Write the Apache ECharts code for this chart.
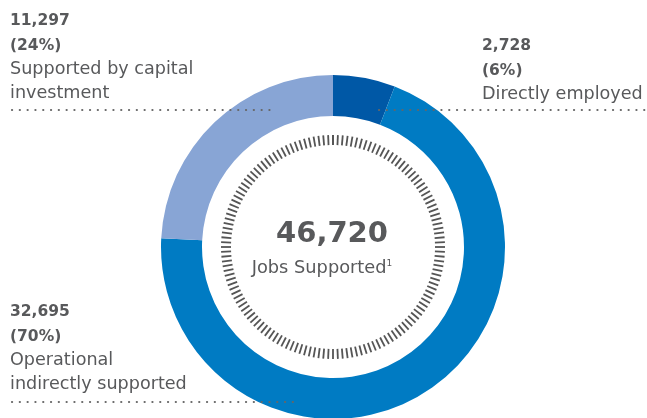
<!DOCTYPE html>
<html>
<head>
<meta charset="utf-8">
<script src="https://cdn.jsdelivr.net/npm/echarts@6/dist/echarts.min.js"></script>
<style>
  html, body { margin: 0; padding: 0; background: #ffffff; }
  #chart { width: 647px; height: 418px; }
</style>
</head>
<body>
<div id="chart"></div>
<script>
// Jobs supported, by category
const categories = ['Directly employed', 'Operational indirectly supported', 'Supported by capital investment'];
const labelLines = [['Directly employed'], ['Operational', 'indirectly supported'], ['Supported by capital', 'investment']];
const jobs = [2728, 32695, 11297];
const sliceColors = ['#0058a6', '#007bc3', '#88a5d5'];
const totalCaption = 'Jobs Supported';
const footnoteMark = '1';

const total = jobs.reduce((a, b) => a + b, 0);
const fmt = n => n.toLocaleString('en-US');
const pct = n => Math.round(n / total * 100) + '%';

const textColor = '#58595b';
const fontFamily = '"DejaVu Sans", "Open Sans", sans-serif';

// callout text block: bold value, bold share, then the category name
function callout(idx, x, y) {
  const lines = [
    '{b|' + fmt(jobs[idx]) + '}',
    '{b|(' + pct(jobs[idx]) + ')}'
  ].concat(labelLines[idx].map(s => '{r|' + s + '}'));
  return {
    type: 'text', x: x, y: y,
    style: {
      text: lines.join('\n'),
      align: 'left', verticalAlign: 'top',
      rich: {
        b: { fontFamily, fontSize: 15.5, fontWeight: 'bold', fill: textColor, lineHeight: 25 },
        r: { fontFamily, fontSize: 17.6, fill: textColor, lineHeight: 23.5 }
      }
    }
  };
}

function dotted(x1, x2, y) {
  return {
    type: 'line', z: 10,
    shape: { x1, y1: y, x2, y2: y },
    style: { stroke: '#666666', lineWidth: 2.2, lineDash: [0.1, 7.7], lineCap: 'round' }
  };
}

const chart = echarts.init(document.getElementById('chart'), null, { renderer: 'canvas' });
chart.setOption({
  animation: false,
  series: [
    {
      type: 'pie',
      center: [333, 247],
      radius: [131, 172],
      startAngle: 90,
      clockwise: true,
      label: { show: false },
      labelLine: { show: false },
      emphasis: { disabled: true },
      itemStyle: { borderWidth: 0 },
      data: categories.map((c, i) => ({ name: c, value: jobs[i], itemStyle: { color: sliceColors[i] } }))
    },
    {
      type: 'gauge',
      center: [333, 247],
      radius: 112,
      startAngle: 90,
      endAngle: -270,
      min: 0,
      max: 144,
      splitNumber: 144,
      axisLine: { show: false, lineStyle: { width: 0 } },
      axisTick: { show: false },
      splitLine: { show: true, distance: 0, length: 10, lineStyle: { color: '#555555', width: 1.8 } },
      axisLabel: { show: false },
      pointer: { show: false },
      anchor: { show: false },
      title: { show: false },
      detail: { show: false },
      data: [{ value: 0 }]
    }
  ],
  graphic: [
    callout(2, 10, 8),
    callout(0, 482, 33),
    callout(1, 10, 299),
    dotted(12, 276, 110),
    dotted(379, 647, 110),
    dotted(12, 299, 402),
    {
      type: 'text',
      style: {
        text: fmt(total),
        x: 332, y: 234,
        align: 'center', verticalAlign: 'middle',
        fontFamily, fontSize: 29, fontWeight: 'bold', fill: textColor
      }
    },
    {
      type: 'text',
      style: {
        text: '{r|' + totalCaption + '}{s|' + footnoteMark + '}',
        x: 322, y: 268,
        align: 'center', verticalAlign: 'middle',
        rich: {
          r: { fontFamily, fontSize: 17.8, fill: textColor },
          s: { fontFamily, fontSize: 9, fill: textColor, verticalAlign: 'top', padding: [0, 0, 9, 0] }
        }
      }
    }
  ]
});
</script>
</body>
</html>
